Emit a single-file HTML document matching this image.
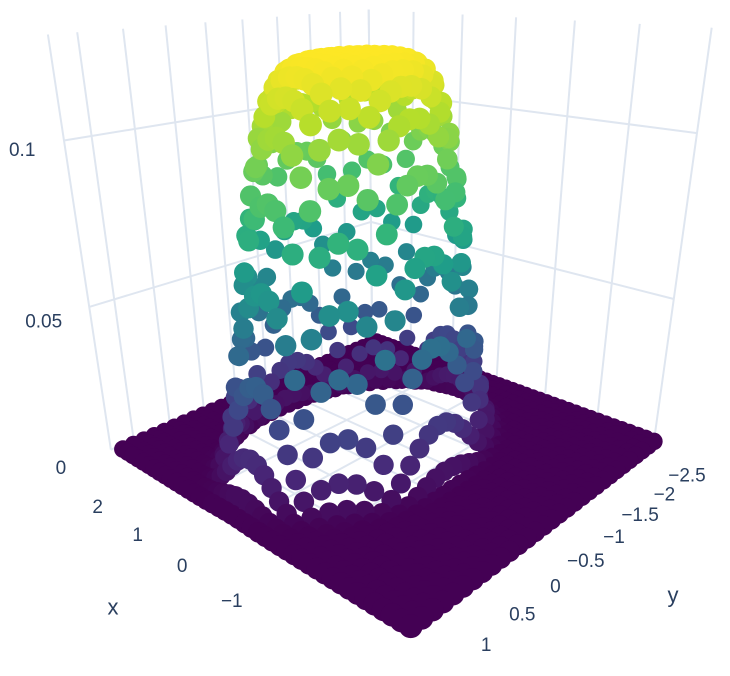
<!DOCTYPE html>
<html><head><meta charset="utf-8">
<style>
html,body{margin:0;padding:0;background:#fff;width:730px;height:676px;overflow:hidden}
svg{display:block}
text{font-family:"Liberation Sans",sans-serif;fill:#2a3f5f}
</style></head>
<body>
<svg id="chart" width="730" height="676" viewBox="0 0 730 676">
<g id="walls"></g>
<g id="marks"></g>
<g id="labels"></g>
</svg>
<script>
// ---- data / axes ----
const xTicks = [2, 1, 0, -1];
const xGrid = [-2, -1, 0, 1, 2];
const yTicks = [-2.5, -2, -1.5, -1, -0.5, 0, 0.5, 1];
const zTicks = [0, 0.05, 0.1];
const zTickLabels = ["0", "0.05", "0.1"];
const xRange = [-3, 3];
const yRange = [-3, 1.3];
const zRange = [0, 0.128];
const peakZ = [0.121];
const center = [0.22, -0.66];
const gridStep = [0.14];

// ---- projection fit (3x4 matrix via least squares) ----
const [X0,X1]=xRange,[Y0,Y1]=yRange;
const corr=[
 [X1,Y1,0,112,452],[X0,Y1,0,400,632],[X0,Y0,0,655,440],[X1,Y0,0,372,338],
 [X1,Y1,0.1,65,138],[X0,Y0,0.1,698,135],[X1,Y0,0.1,368,91]];
function solveLS(rows,rhs){const n=rows[0].length;const A=[];for(let i=0;i<n;i++){A.push(new Array(n+1).fill(0));}
 rows.forEach((r,k)=>{for(let i=0;i<n;i++){for(let j=0;j<n;j++)A[i][j]+=r[i]*r[j];A[i][n]+=r[i]*rhs[k];}});
 for(let c=0;c<n;c++){let p=c;for(let r=c+1;r<n;r++)if(Math.abs(A[r][c])>Math.abs(A[p][c]))p=r;[A[c],A[p]]=[A[p],A[c]];
  for(let r=0;r<n;r++){if(r===c)continue;const f=A[r][c]/A[c][c];for(let j=c;j<=n;j++)A[r][j]-=f*A[c][j];}}
 return A.map((r,i)=>r[n]/r[i]);}
const zs=1000;
const R=[],B=[];
corr.forEach(([X,Y,Z,sx,sy])=>{const z=Z*zs;
 R.push([X,Y,z,1,0,0,0,0,-sx*X,-sx*Y,-sx*z]);B.push(sx);
 R.push([0,0,0,0,X,Y,z,1,-sy*X,-sy*Y,-sy*z]);B.push(sy);});
const P=solveLS(R,B);
function proj(X,Y,Z){const z=Z*zs;const w=P[8]*X+P[9]*Y+P[10]*z+1;
 return [(P[0]*X+P[1]*Y+P[2]*z+P[3])/w,(P[4]*X+P[5]*Y+P[6]*z+P[7])/w,w];}

const NS="http://www.w3.org/2000/svg";
function mk(tag,attrs,parent){const e=document.createElementNS(NS,tag);for(const k in attrs)e.setAttribute(k,attrs[k]);parent.appendChild(e);return e;}
const walls=document.getElementById('walls'),marks=document.getElementById('marks'),labels=document.getElementById('labels');
function line(a,b,name){const p=proj(...a),q=proj(...b);
 const l=mk('line',{x1:p[0].toFixed(1),y1:p[1].toFixed(1),x2:q[0].toFixed(1),y2:q[1].toFixed(1),stroke:'#dfe6f0','stroke-width':2},walls);
 
 }
const Z1=zRange[1];
[Y0,...yTicks.filter(v=>v>Y0&&v<Y1),Y1].forEach(y=>line([X1,y,0],[X1,y,Z1],'left-wall-gridline'));
zTicks.forEach(z=>line([X1,Y0,z],[X1,Y1,z],'left-wall-z-gridline'));
[X0,...xGrid,X1].forEach(x=>line([x,Y0,0],[x,Y0,Z1],'right-wall-gridline'));
zTicks.forEach(z=>line([X0,Y0,z],[X1,Y0,z],'right-wall-z-gridline'));
xGrid.forEach(x=>line([x,Y0,0],[x,Y1,0],'floor-x-gridline'));
yTicks.forEach(y=>line([X0,y,0],[X1,y,0],'floor-y-gridline'));

const vir=[[68,1,84],[72,40,120],[62,73,137],[49,104,142],[38,130,142],[31,158,137],[53,183,121],[110,206,88],[181,222,43],[253,231,37]];
function col(t){t=Math.max(0,Math.min(1,t));const s=t*(vir.length-1);const i=Math.min(vir.length-2,Math.floor(s));const f=s-i;
 const c=vir[i].map((v,k)=>Math.round(v+(vir[i+1][k]-v)*f));return `rgb(${c[0]},${c[1]},${c[2]})`;}
function surf(x,y){const r=Math.hypot(x-center[0],y-center[1]);return peakZ[0]*Math.exp(-Math.pow(r/1.4,6));}

const pts=[];const st=gridStep[0];
for(let x=X0;x<=X1+1e-9;x+=st)for(let y=Y0;y<=Y1+1e-9;y+=st){const z=surf(x,y);pts.push([x,y,z]);}
const wc=proj((X0+X1)/2,(Y0+Y1)/2,0)[2];
const pp=pts.map(p=>{const q=proj(...p);return {p,q};}).sort((a,b)=>b.q[2]-a.q[2]);
pp.forEach(({p,q})=>{
 const c=mk('circle',{cx:q[0].toFixed(1),cy:q[1].toFixed(1),r:(8.8*wc/q[2]).toFixed(2),fill:col(p[2]/peakZ[0])},marks);
 
 
});

function txt(s,x,y,size,name){const t=mk('text',{x:x.toFixed(1),y:y.toFixed(1),'font-size':size,'text-anchor':'middle','dominant-baseline':'central'},labels);
 t.textContent=s;
 
 }
xTicks.forEach(v=>{const q=proj(v,Y1+0.65,0);txt(String(v).replace('-','\u2212'),q[0]+3,q[1]+10,19,'x-tick-label');});
yTicks.forEach(v=>{const q=proj(X0-0.75,v,0);txt(String(v).replace('-','\u2212'),q[0]+8,q[1],19,'y-tick-label');});
zTicks.forEach((v,i)=>{const q=proj(X1,Y1+0.5,v);txt(zTickLabels[i],q[0]-10+170*v,q[1]+2,19,'z-tick-label');});
txt('x',113,607,22,'x-axis-title');
txt('y',673,595,22,'y-axis-title');
</script>
</body></html>
